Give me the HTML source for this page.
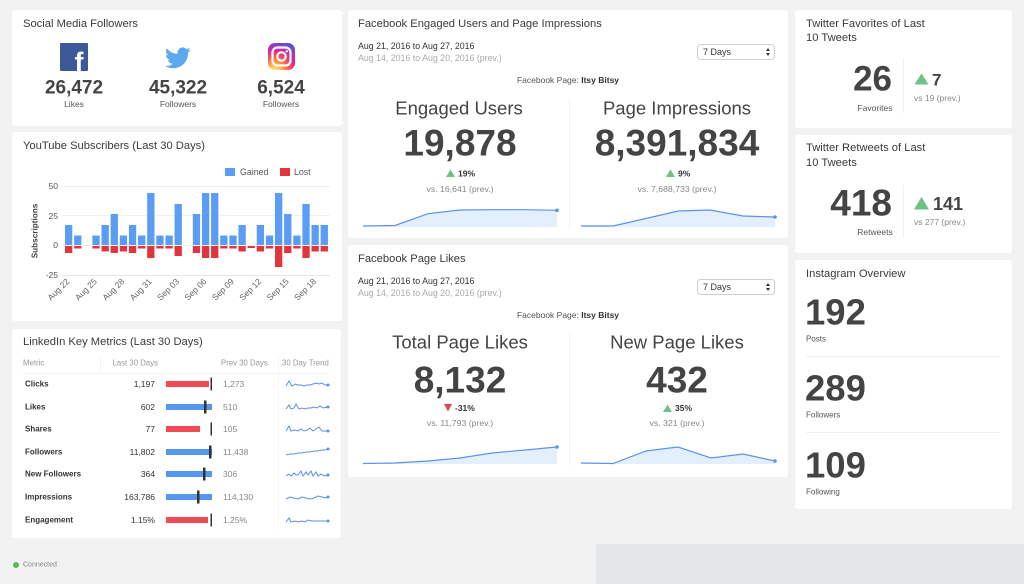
<!DOCTYPE html>
<html>
<head>
<meta charset="utf-8">
<style>
html,body{margin:0;padding:0;background:#f2f2f2;}
body{width:1024px;height:584px;overflow:hidden;}
svg{display:block;}
text{font-family:"Liberation Sans",sans-serif;}
</style>
</head>
<body>
<svg width="1024" height="584" viewBox="0 0 1024 584" xmlns="http://www.w3.org/2000/svg">
<defs>
<radialGradient id="ig" cx="0.25" cy="1.05" r="1.2">
<stop offset="0" stop-color="#fdf497"/>
<stop offset="0.2" stop-color="#fdbb4a"/>
<stop offset="0.45" stop-color="#fd5949"/>
<stop offset="0.65" stop-color="#d6249f"/>
<stop offset="0.95" stop-color="#5b51d8"/>
</radialGradient>
</defs>
<rect x="0" y="0" width="1024" height="584" fill="#f2f2f2"/>
<rect x="596" y="544" width="428" height="40" fill="#e5e6e8"/>

<!-- Panels -->
<rect x="12" y="10" width="330" height="116" rx="3" fill="#fff"/>
<rect x="12" y="132" width="330" height="189" rx="3" fill="#fff"/>
<rect x="12" y="329" width="329" height="209" rx="3" fill="#fff"/>
<rect x="348" y="10" width="440" height="228" rx="3" fill="#fff"/>
<rect x="348" y="245" width="440" height="232" rx="3" fill="#fff"/>
<rect x="795" y="10" width="217" height="118" rx="3" fill="#fff"/>
<rect x="795" y="135" width="217" height="118" rx="3" fill="#fff"/>
<rect x="795" y="260" width="217" height="249" rx="3" fill="#fff"/>

<!-- Social Media Followers -->
<text x="23" y="24" font-size="11.2" fill="#3a3a3a" dominant-baseline="central">Social Media Followers</text>
<rect x="60" y="43" width="28" height="28" rx="1" fill="#3b5998"/>
<text x="79" y="71" font-size="27" font-weight="bold" fill="#fff" text-anchor="middle">f</text>
<g transform="translate(165,45) scale(1.07)">
<path fill="#5ba8ee" d="M23.953 4.57a10 10 0 01-2.825.775 4.958 4.958 0 002.163-2.723c-.951.555-2.005.959-3.127 1.184a4.92 4.92 0 00-8.384 4.482C7.69 8.095 4.067 6.13 1.64 3.162a4.822 4.822 0 00-.666 2.475c0 1.71.87 3.213 2.188 4.096a4.904 4.904 0 01-2.228-.616v.06a4.923 4.923 0 003.946 4.827 4.996 4.996 0 01-2.212.085 4.936 4.936 0 004.604 3.417 9.867 9.867 0 01-6.102 2.105c-.39 0-.779-.023-1.17-.067a13.995 13.995 0 007.557 2.209c9.053 0 13.998-7.496 13.998-13.985 0-.21 0-.42-.015-.63A9.935 9.935 0 0024 4.59z"/>
</g>
<rect x="268" y="43" width="27" height="27" rx="7" fill="url(#ig)"/>
<rect x="272.5" y="47.5" width="18" height="18" rx="5" fill="none" stroke="#fff" stroke-width="2.2"/>
<circle cx="281.5" cy="56.5" r="4.2" fill="none" stroke="#fff" stroke-width="2.2"/>
<circle cx="286.8" cy="51.3" r="1.2" fill="#fff"/>
<g font-size="19" font-weight="bold" fill="#444" text-anchor="middle" dominant-baseline="central">
<text x="74" y="88">26,472</text>
<text x="178" y="88">45,322</text>
<text x="281" y="88">6,524</text>
</g>
<g font-size="8.5" fill="#555" text-anchor="middle" dominant-baseline="central">
<text x="74" y="104">Likes</text>
<text x="178" y="104">Followers</text>
<text x="281" y="104">Followers</text>
</g>

<!-- YouTube -->
<text x="23" y="146" font-size="11.2" fill="#3a3a3a" dominant-baseline="central">YouTube Subscribers (Last 30 Days)</text>
<rect x="225" y="168" width="10" height="8" fill="#5b9df5"/>
<text x="240" y="172" font-size="8.8" fill="#555" dominant-baseline="central">Gained</text>
<rect x="280" y="168" width="10" height="8" fill="#e0353d"/>
<text x="294" y="172" font-size="8.8" fill="#555" dominant-baseline="central">Lost</text>
<g stroke="#f0f0f0" stroke-width="1">
<line x1="62" y1="186.5" x2="330" y2="186.5"/>
<line x1="62" y1="215.5" x2="330" y2="215.5"/>
<line x1="62" y1="245.5" x2="330" y2="245.5"/>
</g>
<line x1="62" y1="275.5" x2="330" y2="275.5" stroke="#e6e6e6"/>
<g font-size="8.5" fill="#555" text-anchor="end" dominant-baseline="central">
<text x="58" y="186">50</text>
<text x="58" y="216">25</text>
<text x="58" y="245">0</text>
<text x="58" y="275">-25</text>
</g>
<text transform="translate(35,231) rotate(-90)" font-size="8.2" font-weight="bold" fill="#444" text-anchor="middle" dominant-baseline="central">Subscriptions</text>
<g fill="#5b9df5">
<rect x="65.00" y="225" width="7.3" height="20"/>
<rect x="74.13" y="235.5" width="7.3" height="9.5"/>
<rect x="92.39" y="235.5" width="7.3" height="9.5"/>
<rect x="101.52" y="225" width="7.3" height="20"/>
<rect x="110.65" y="214" width="7.3" height="31"/>
<rect x="119.78" y="235.5" width="7.3" height="9.5"/>
<rect x="128.91" y="225" width="7.3" height="20"/>
<rect x="138.04" y="235.5" width="7.3" height="9.5"/>
<rect x="147.17" y="193" width="7.3" height="52"/>
<rect x="156.30" y="235.5" width="7.3" height="9.5"/>
<rect x="165.43" y="235.5" width="7.3" height="9.5"/>
<rect x="174.56" y="204" width="7.3" height="41"/>
<rect x="192.82" y="214" width="7.3" height="31"/>
<rect x="201.95" y="193" width="7.3" height="52"/>
<rect x="211.08" y="193" width="7.3" height="52"/>
<rect x="220.21" y="235.5" width="7.3" height="9.5"/>
<rect x="229.34" y="235.5" width="7.3" height="9.5"/>
<rect x="238.47" y="225" width="7.3" height="20"/>
<rect x="256.73" y="225" width="7.3" height="20"/>
<rect x="265.86" y="235.5" width="7.3" height="9.5"/>
<rect x="274.99" y="193" width="7.3" height="52"/>
<rect x="284.12" y="214" width="7.3" height="31"/>
<rect x="293.25" y="235.5" width="7.3" height="9.5"/>
<rect x="302.38" y="204" width="7.3" height="41"/>
<rect x="311.51" y="225" width="7.3" height="20"/>
<rect x="320.64" y="225" width="7.3" height="20"/>
</g>
<g fill="#e0353d">
<rect x="65.00" y="246" width="7.3" height="7"/>
<rect x="74.13" y="246" width="7.3" height="2.5"/>
<rect x="92.39" y="246" width="7.3" height="2.5"/>
<rect x="101.52" y="246" width="7.3" height="5.5"/>
<rect x="110.65" y="246" width="7.3" height="7"/>
<rect x="119.78" y="246" width="7.3" height="5.5"/>
<rect x="128.91" y="246" width="7.3" height="7"/>
<rect x="138.04" y="246" width="7.3" height="2.5"/>
<rect x="147.17" y="246" width="7.3" height="12"/>
<rect x="156.30" y="246" width="7.3" height="2.5"/>
<rect x="165.43" y="246" width="7.3" height="2.5"/>
<rect x="174.56" y="246" width="7.3" height="10"/>
<rect x="192.82" y="246" width="7.3" height="7"/>
<rect x="201.95" y="246" width="7.3" height="12"/>
<rect x="211.08" y="246" width="7.3" height="12"/>
<rect x="220.21" y="246" width="7.3" height="2.5"/>
<rect x="229.34" y="246" width="7.3" height="2.5"/>
<rect x="238.47" y="246" width="7.3" height="5.5"/>
<rect x="247.60" y="246" width="7.3" height="2"/>
<rect x="256.73" y="246" width="7.3" height="5.5"/>
<rect x="265.86" y="246" width="7.3" height="2.5"/>
<rect x="274.99" y="246" width="7.3" height="21"/>
<rect x="284.12" y="246" width="7.3" height="7"/>
<rect x="293.25" y="246" width="7.3" height="2.5"/>
<rect x="302.38" y="246" width="7.3" height="12"/>
<rect x="311.51" y="246" width="7.3" height="5.5"/>
<rect x="320.64" y="246" width="7.3" height="5.5"/>
</g>
<g font-size="8.5" fill="#666" text-anchor="end">
<text transform="translate(70,282) rotate(-45)">Aug 22</text>
<text transform="translate(97.5,282) rotate(-45)">Aug 25</text>
<text transform="translate(124.9,282) rotate(-45)">Aug 28</text>
<text transform="translate(152.3,282) rotate(-45)">Aug 31</text>
<text transform="translate(179.7,282) rotate(-45)">Sep 03</text>
<text transform="translate(207.1,282) rotate(-45)">Sep 06</text>
<text transform="translate(234.5,282) rotate(-45)">Sep 09</text>
<text transform="translate(261.9,282) rotate(-45)">Sep 12</text>
<text transform="translate(289.3,282) rotate(-45)">Sep 15</text>
<text transform="translate(316.7,282) rotate(-45)">Sep 18</text>
</g>

<!-- LinkedIn -->
<text x="23" y="342" font-size="11.2" fill="#3a3a3a" dominant-baseline="central">LinkedIn Key Metrics (Last 30 Days)</text>
<g font-size="7.8" fill="#999" dominant-baseline="central">
<text x="23" y="363">Metric</text>
<text x="158" y="363" text-anchor="end">Last 30 Days</text>
<text x="221" y="363">Prev 30 Days</text>
<text x="282" y="363">30 Day Trend</text>
</g>
<line x1="23" y1="373.5" x2="330" y2="373.5" stroke="#f2f2f2"/>
<line x1="100.5" y1="356" x2="100.5" y2="372" stroke="#f2f2f2"/>
<line x1="278.5" y1="356" x2="278.5" y2="530" stroke="#f6f6f6"/>
<g font-size="8" font-weight="bold" fill="#333" dominant-baseline="central">
<text x="25" y="384">Clicks</text>
<text x="25" y="407">Likes</text>
<text x="25" y="429">Shares</text>
<text x="25" y="452">Followers</text>
<text x="25" y="474">New Followers</text>
<text x="25" y="497">Impressions</text>
<text x="25" y="520">Engagement</text>
</g>
<g font-size="8.5" fill="#333" text-anchor="end" dominant-baseline="central">
<text x="155" y="384">1,197</text>
<text x="155" y="407">602</text>
<text x="155" y="429">77</text>
<text x="155" y="452">11,802</text>
<text x="155" y="474">364</text>
<text x="155" y="497">163,786</text>
<text x="155" y="520">1.15%</text>
</g>
<g font-size="8.5" fill="#888" dominant-baseline="central">
<text x="223" y="384">1,273</text>
<text x="223" y="407">510</text>
<text x="223" y="429">105</text>
<text x="223" y="452">11,438</text>
<text x="223" y="474">306</text>
<text x="223" y="497">114,130</text>
<text x="223" y="520">1.25%</text>
</g>
<rect x="166" y="381" width="43" height="6" fill="#f04b57"/>
<rect x="166" y="404" width="46" height="6" fill="#5596ee"/>
<rect x="166" y="426" width="34" height="6" fill="#f04b57"/>
<rect x="166" y="449" width="46" height="6" fill="#5596ee"/>
<rect x="166" y="471" width="46" height="6" fill="#5596ee"/>
<rect x="166" y="494" width="46" height="6" fill="#5596ee"/>
<rect x="166" y="517" width="42" height="6" fill="#f04b57"/>
<g fill="#333">
<rect x="210.5" y="377.5" width="1.5" height="13"/>
<rect x="204" y="400.5" width="2.5" height="13"/>
<rect x="210.5" y="422.5" width="1.5" height="13"/>
<rect x="209" y="445.5" width="2.5" height="13"/>
<rect x="203" y="467.5" width="2.5" height="13"/>
<rect x="197" y="490.5" width="2.5" height="13"/>
<rect x="210.5" y="513.5" width="1.5" height="13"/>
</g>
<g fill="none" stroke="#5b8fe6" stroke-width="1">
<path d="M286,386 L289,381 L292,386 L295,384 L298,385 L301,385 L304,386 L307,385 L310,385 L313,384 L316,383 L319,384 L322,383 L325,385 L328,385"/>
<path d="M286,409 L289,405 L291,409 L294,408 L296,404 L299,409 L302,408 L305,409 L308,408 L311,408 L314,407 L317,408 L320,406 L323,408 L328,407"/>
<path d="M286,431 L289,426 L291,431 L295,430 L298,431 L301,429 L304,431 L307,430 L310,428 L313,431 L316,429 L319,427 L322,431 L325,431 L328,431"/>
<path d="M286,455 L290,454 L294,454 L298,453 L302,453 L306,452 L310,452 L314,451 L318,451 L322,450 L325,450 L328,449"/>
<path d="M286,476 L289,474 L291,476 L294,473 L296,475 L299,474 L301,471 L303,476 L306,472 L308,475 L311,471 L313,476 L316,472 L318,476 L321,474 L324,476 L328,475"/>
<path d="M286,499 L290,497 L294,498 L298,499 L302,497 L306,498 L310,499 L314,498 L318,496 L322,497 L325,498 L328,497"/>
<path d="M286,522 L289,518 L291,522 L295,521 L298,522 L302,521 L305,522 L308,520 L312,521 L316,521 L320,521 L324,521 L328,521"/>
</g>
<g fill="#5b8fe6">
<circle cx="328" cy="385" r="1.5"/>
<circle cx="328" cy="407" r="1.5"/>
<circle cx="328" cy="431" r="1.5"/>
<circle cx="328" cy="449" r="1.5"/>
<circle cx="328" cy="475" r="1.5"/>
<circle cx="328" cy="497" r="1.5"/>
<circle cx="328" cy="521" r="1.5"/>
</g>

<!-- Facebook Engaged Users -->
<text x="358" y="24" font-size="11.2" fill="#3a3a3a" dominant-baseline="central">Facebook Engaged Users and Page Impressions</text>
<text x="358" y="46" font-size="8.8" fill="#333" dominant-baseline="central">Aug 21, 2016 to Aug 27, 2016</text>
<text x="358" y="58" font-size="8.8" fill="#aaa" dominant-baseline="central">Aug 14, 2016 to Aug 20, 2016 (prev.)</text>
<rect x="697.5" y="44.5" width="77" height="15" rx="3" fill="#fff" stroke="#cfcfcf"/>
<text x="703" y="52" font-size="9" fill="#333" dominant-baseline="central">7 Days</text>
<polygon points="766,51 768,48 770,51" fill="#333"/>
<polygon points="766,53 768,56 770,53" fill="#333"/>
<text x="568" y="80" font-size="8.5" fill="#555" text-anchor="middle" dominant-baseline="central">Facebook Page: <tspan font-weight="bold" fill="#333">Itsy Bitsy</tspan></text>
<line x1="569.5" y1="100" x2="569.5" y2="228" stroke="#f2f2f2"/>
<g font-size="18.5" fill="#444" text-anchor="middle" dominant-baseline="central">
<text x="459" y="108">Engaged Users</text>
<text x="677" y="108">Page Impressions</text>
</g>
<g font-size="37" font-weight="bold" fill="#444" text-anchor="middle" dominant-baseline="central">
<text x="460" y="143">19,878</text>
<text x="677" y="143">8,391,834</text>
</g>
<polygon points="446,177 450.5,169.5 455,177" fill="#6cc183"/>
<text x="458" y="173.5" font-size="8.5" font-weight="bold" fill="#333" dominant-baseline="central">19%</text>
<polygon points="666,177 670.5,169.5 675,177" fill="#6cc183"/>
<text x="678" y="173.5" font-size="8.5" font-weight="bold" fill="#333" dominant-baseline="central">9%</text>
<g font-size="8.7" fill="#888" text-anchor="middle" dominant-baseline="central">
<text x="460" y="189">vs. 16,641 (prev.)</text>
<text x="677" y="189">vs. 7,688,733 (prev.)</text>
</g>
<path d="M363,226 L395,225.5 L428,213.7 L460,210 L493,209.7 L525,209.7 L557,210.3 L557,227 L363,227 Z" fill="#e4effd"/>
<path d="M363,226 L395,225.5 L428,213.7 L460,210 L493,209.7 L525,209.7 L557,210.3" fill="none" stroke="#5b94ea" stroke-width="1.2"/>
<circle cx="557" cy="210.3" r="1.8" fill="#5b94ea"/>
<path d="M581,226 L613,226 L646,218.5 L678,211 L710,210 L743,216 L775,217 L775,227 L581,227 Z" fill="#e4effd"/>
<path d="M581,226 L613,226 L646,218.5 L678,211 L710,210 L743,216 L775,217" fill="none" stroke="#5b94ea" stroke-width="1.2"/>
<circle cx="775" cy="217" r="1.8" fill="#5b94ea"/>

<!-- Facebook Page Likes -->
<text x="358" y="259" font-size="11.2" fill="#3a3a3a" dominant-baseline="central">Facebook Page Likes</text>
<text x="358" y="281" font-size="8.8" fill="#333" dominant-baseline="central">Aug 21, 2016 to Aug 27, 2016</text>
<text x="358" y="293" font-size="8.8" fill="#aaa" dominant-baseline="central">Aug 14, 2016 to Aug 20, 2016 (prev.)</text>
<rect x="697.5" y="279.5" width="77" height="15" rx="3" fill="#fff" stroke="#cfcfcf"/>
<text x="703" y="287" font-size="9" fill="#333" dominant-baseline="central">7 Days</text>
<polygon points="766,286 768,283 770,286" fill="#333"/>
<polygon points="766,288 768,291 770,288" fill="#333"/>
<text x="568" y="315" font-size="8.5" fill="#555" text-anchor="middle" dominant-baseline="central">Facebook Page: <tspan font-weight="bold" fill="#333">Itsy Bitsy</tspan></text>
<line x1="569.5" y1="333" x2="569.5" y2="465" stroke="#f2f2f2"/>
<g font-size="18.5" fill="#444" text-anchor="middle" dominant-baseline="central">
<text x="460" y="342">Total Page Likes</text>
<text x="677" y="342">New Page Likes</text>
</g>
<g font-size="37" font-weight="bold" fill="#444" text-anchor="middle" dominant-baseline="central">
<text x="460" y="380">8,132</text>
<text x="677" y="380">432</text>
</g>
<polygon points="444,404 452,404 448,411.5" fill="#e8434d"/>
<text x="455" y="408" font-size="8.5" font-weight="bold" fill="#333" dominant-baseline="central">-31%</text>
<polygon points="663,412 667.5,404.5 672,412" fill="#6cc183"/>
<text x="675" y="408" font-size="8.5" font-weight="bold" fill="#333" dominant-baseline="central">35%</text>
<g font-size="8.7" fill="#888" text-anchor="middle" dominant-baseline="central">
<text x="460" y="423">vs. 11,793 (prev.)</text>
<text x="677" y="423">vs. 321 (prev.)</text>
</g>
<path d="M363,463.5 L395,463 L428,461 L460,458 L492,453 L525,450 L557,447 L557,464 L363,464 Z" fill="#e4effd"/>
<path d="M363,463.5 L395,463 L428,461 L460,458 L492,453 L525,450 L557,447" fill="none" stroke="#5b94ea" stroke-width="1.2"/>
<circle cx="557" cy="447" r="1.8" fill="#5b94ea"/>
<path d="M581,463 L613,463.5 L646,451 L678,447 L711,458 L743,454 L775,461 L775,464 L581,464 Z" fill="#e4effd"/>
<path d="M581,463 L613,463.5 L646,451 L678,447 L711,458 L743,454 L775,461" fill="none" stroke="#5b94ea" stroke-width="1.2"/>
<circle cx="775" cy="461" r="1.8" fill="#5b94ea"/>

<!-- Twitter Favorites -->
<text x="806" y="24" font-size="11.2" fill="#3a3a3a" dominant-baseline="central">Twitter Favorites of Last</text>
<text x="806" y="38" font-size="11.2" fill="#3a3a3a" dominant-baseline="central">10 Tweets</text>
<text x="892" y="79" font-size="35" font-weight="bold" fill="#444" text-anchor="end" dominant-baseline="central">26</text>
<text x="875" y="108" font-size="8.5" fill="#555" text-anchor="middle" dominant-baseline="central">Favorites</text>
<line x1="903.5" y1="58" x2="903.5" y2="113" stroke="#f0f0f0"/>
<polygon points="914.5,84.5 921.5,73.5 928.5,84.5" fill="#6cc183"/>
<text x="932" y="80" font-size="17" font-weight="bold" fill="#444" dominant-baseline="central">7</text>
<text x="914" y="98" font-size="8.5" fill="#888" dominant-baseline="central">vs 19 (prev.)</text>

<!-- Twitter Retweets -->
<text x="806" y="148" font-size="11.2" fill="#3a3a3a" dominant-baseline="central">Twitter Retweets of Last</text>
<text x="806" y="163" font-size="11.2" fill="#3a3a3a" dominant-baseline="central">10 Tweets</text>
<text x="892" y="203" font-size="37" font-weight="bold" fill="#444" text-anchor="end" dominant-baseline="central">418</text>
<text x="875" y="232" font-size="8.5" fill="#555" text-anchor="middle" dominant-baseline="central">Retweets</text>
<line x1="903.5" y1="185" x2="903.5" y2="238" stroke="#f0f0f0"/>
<polygon points="914,209.5 921.5,197 929,209.5" fill="#6cc183"/>
<text x="933" y="204" font-size="18" font-weight="bold" fill="#444" dominant-baseline="central">141</text>
<text x="914" y="222" font-size="8.5" fill="#888" dominant-baseline="central">vs 277 (prev.)</text>

<!-- Instagram -->
<text x="806" y="274" font-size="11.2" fill="#3a3a3a" dominant-baseline="central">Instagram Overview</text>
<g font-size="36.5" font-weight="bold" fill="#444" dominant-baseline="central">
<text x="805" y="312">192</text>
<text x="805" y="388">289</text>
<text x="805" y="465">109</text>
</g>
<g font-size="8" fill="#555" dominant-baseline="central">
<text x="806" y="339">Posts</text>
<text x="806" y="415">Followers</text>
<text x="806" y="492">Following</text>
</g>
<line x1="806" y1="356.5" x2="1000" y2="356.5" stroke="#f0f0f0"/>
<line x1="806" y1="432.5" x2="1000" y2="432.5" stroke="#f0f0f0"/>

<!-- Connected -->
<circle cx="16" cy="565" r="3" fill="#5cb85c"/>
<text x="23" y="565" font-size="7" fill="#888" dominant-baseline="central">Connected</text>
</svg>
</body>
</html>
